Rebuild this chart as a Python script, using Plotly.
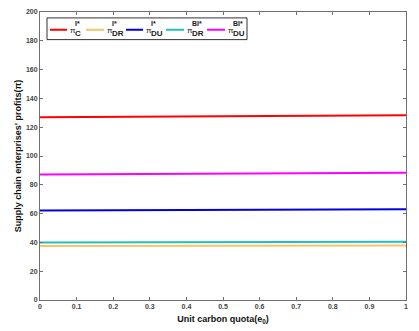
import plotly.graph_objects as go

e0 = [0, 1]
pi_C_I = [126.9, 128.3]
pi_DR_I = [37.5, 37.9]
pi_DU_I = [62.2, 63.0]
pi_DR_BI = [40.0, 40.4]
pi_DU_BI = [87.2, 88.4]

names = ["π<sup>I*</sup><sub>C</sub>", "π<sup>I*</sup><sub>DR</sub>", "π<sup>I*</sup><sub>DU</sub>",
         "π<sup>BI*</sup><sub>DR</sub>", "π<sup>BI*</sup><sub>DU</sub>"]
sups = ["I*", "I*", "I*", "BI*", "BI*"]
subs = ["C", "DR", "DU", "DR", "DU"]
series = [pi_C_I, pi_DR_I, pi_DU_I, pi_DR_BI, pi_DU_BI]
colors = ["#ff0000", "#f5c46b", "#0000e0", "#20c0c0", "#ff00ff"]

fig = go.Figure()
for n, s, c in zip(names, series, colors):
    fig.add_trace(go.Scatter(x=e0, y=s, mode="lines", name=n, line=dict(color=c, width=2),
                             showlegend=False))

# custom compact legend (paper coordinates of the plot area)
L, PW, T, PH = 40, 366, 300, 292
def px(x): return (x - L) / PW
def py(y): return (T - y) / PH
shapes = [dict(type="rect", xref="paper", yref="paper", x0=px(47), x1=px(247), y0=py(36), y1=py(14),
               line=dict(color="#333333", width=1), fillcolor="white", layer="above")]
annotations = []
line_x = [(50, 67), (86, 104), (126, 143), (166, 184), (207, 225)]
lf = "Liberation Sans, Arial"
for (a, b), c, sp, sb in zip(line_x, colors, sups, subs):
    shapes.append(dict(type="line", xref="paper", yref="paper", x0=px(a), x1=px(b), y0=py(26), y1=py(26),
                       line=dict(color=c, width=2), layer="above"))
    annotations.append(dict(xref="paper", yref="paper", x=px(b + 1), y=py(27), xanchor="left", yanchor="middle",
                            text="π", showarrow=False,
                            font=dict(size=8, color="#222222", family=lf)))
    annotations.append(dict(xref="paper", yref="paper", x=px(b + 6), y=py(20), xanchor="left", yanchor="middle",
                            text="<b>" + sp + "</b>", showarrow=False,
                            font=dict(size=7, color="#222222", family=lf)))
    annotations.append(dict(xref="paper", yref="paper", x=px(b + 6), y=py(30), xanchor="left", yanchor="middle",
                            text="<b>" + sb + "</b>", showarrow=False,
                            font=dict(size=8, color="#222222", family=lf)))

axcol = "#707070"
tf = dict(size=7, family=lf, color="#444444", weight="bold")
fig.update_layout(
    width=419, height=331,
    margin=dict(l=40, r=13, t=8, b=31),
    plot_bgcolor="white", paper_bgcolor="white",
    font=dict(family=lf, size=8, color="#333333"),
    shapes=shapes, annotations=annotations,
    xaxis=dict(range=[0, 1], tickvals=[0, 0.1, 0.2, 0.3, 0.4, 0.5, 0.6, 0.7, 0.8, 0.9, 1],
               ticktext=["0", "0.1", "0.2", "0.3", "0.4", "0.5", "0.6", "0.7", "0.8", "0.9", "1"],
               ticks="inside", ticklen=3, tickcolor=axcol, showline=True, linecolor=axcol,
               linewidth=1, mirror="ticks", showgrid=False, zeroline=False,
               tickfont=tf,
               title=dict(text="<b>Unit carbon quota(e<sub>0</sub>)</b>", standoff=6,
                          font=dict(size=9, color="#111111"))),
    yaxis=dict(range=[0, 200], tickvals=list(range(0, 201, 20)),
               ticks="inside", ticklen=3, tickcolor=axcol, showline=True, linecolor=axcol,
               linewidth=1, mirror="ticks", showgrid=False, zeroline=False,
               tickfont=tf,
               title=dict(text="<b>Supply chain enterprises' profits(π)</b>", standoff=2,
                          font=dict(size=9, color="#111111"))),
)
fig.write_html("out.html")
